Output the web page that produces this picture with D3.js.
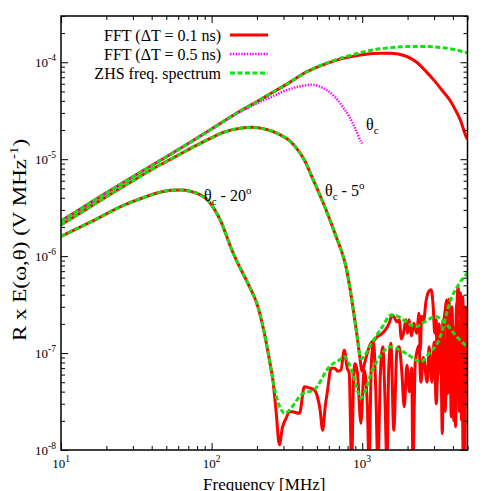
<!DOCTYPE html>
<html>
<head>
<meta charset="utf-8">
<script src="https://cdn.jsdelivr.net/npm/d3@7"></script>
<style>
  body { margin: 0; background: #fff; }
  text { font-family: "Liberation Serif", "Times New Roman", serif; fill: #000; }
</style>
</head>
<body>
<script>
var width = 491,
    height = 491;

// frequency [MHz], field [V/MHz]
// theta_c, FFT with dT = 0.1 ns
var fftTheta = [[10,2.3e-6],[15,3.4e-6],[20,4.5e-6],[30,6.6e-6],[44,9.4e-6],[70,1.45e-5],[100,2.05e-5],[153,3.1e-5],
  [202,3.95e-5],[255,4.9e-5],[330,6.2e-5],[424,7.9e-5],[550,9.4e-5],[705,1.07e-4],[870,1.15e-4],[1060,1.21e-4],
  [1300,1.24e-4],[1550,1.24e-4],[1945,1.16e-4],[2300,1.0e-4],[2642,8.1e-5],[3000,6.5e-5],[3404,5.1e-5],
  [3800,4.1e-5],[4169,3.2e-5],[4500,2.5e-5],[4864,1.75e-5],[5000,1.6e-5]];
// theta_c, FFT with dT = 0.5 ns
var fftCoarseTheta = [[10,2.3e-6],[15,3.4e-6],[20,4.5e-6],[30,6.6e-6],[44,9.4e-6],[70,1.45e-5],[100,2.05e-5],
  [153,3.05e-5],[202,3.8e-5],[255,4.45e-5],[300,5.0e-5],[345,5.4e-5],[400,5.7e-5],[457,5.85e-5],[500,5.75e-5],
  [546,5.45e-5],[600,5.0e-5],[670,4.26e-5],[750,3.4e-5],[820,2.75e-5],[908,2.0e-5],[980,1.52e-5],[1000,1.45e-5]];
// theta_c, ZHS frequency spectrum
var zhsTheta = [[10,2.3e-6],[15,3.4e-6],[20,4.5e-6],[30,6.6e-6],[44,9.4e-6],[70,1.45e-5],[100,2.05e-5],[153,3.1e-5],
  [202,3.95e-5],[255,4.9e-5],[330,6.2e-5],[424,7.9e-5],[550,9.5e-5],[705,1.09e-4],[870,1.2e-4],[1170,1.34e-4],
  [1500,1.41e-4],[1945,1.45e-4],[2642,1.45e-4],[3581,1.4e-4],[4300,1.33e-4],[5000,1.25e-4]];

// theta_c - 5 deg, common part of both spectra
var lobe5 = [[10,2.1e-6],[15,3.1e-6],[20,4.1e-6],[30,6.0e-6],[44,8.5e-6],[60,1.1e-5],[73,1.3e-5],[95,1.6e-5],
  [121,1.9e-5],[155,2.08e-5],[183,2.13e-5],[215,2.08e-5],[255,1.93e-5],[290,1.76e-5],[329,1.55e-5],[370,1.27e-5],
  [413,9.8e-6],[469,6.3e-6],[519,4.4e-6],[580,2.9e-6],[635,2.0e-6],[686,1.45e-6],[735,1.08e-6],[780,7.8e-7],
  [830,4.6e-7],[885,2.4e-7],[930,1.4e-7]];
var fftTail5 = [[960,9.5e-8],[1000,6.5e-8],[1040,8e-8],[1090,1.05e-7],[1140,1.26e-7],[1200,1.35e-7],[1260,1.48e-7],
  [1330,1.55e-7],[1390,1.66e-7],[1450,1.8e-7],[1510,2.03e-7],[1580,2.47e-7],[1640,2.3e-7],[1700,2.1e-7],
  [1760,2.2e-7],[1820,1.4e-7],[1880,1.6e-7],[1950,2.2e-7],[2000,1.6e-7],[2046,2.2e-7],[2120,1.5e-7],[2200,2.03e-7],
  [2300,1.6e-7],[2383,2.58e-7],[2430,1.07e-7],[2480,2.4e-7],[2560,2.2e-7],[2650,3.4e-7],[2760,4.3e-7],
  [2870,4.49e-7],[2960,3.0e-7],[3030,1.6e-7],[3100,2.2e-7],[3150,5.3e-8],[3230,1.8e-7],[3330,1.0e-7],
  [3400,1.48e-8],[3480,2.0e-7],[3560,2.8e-7],[3630,3.53e-7],[3690,3.8e-8],[3760,3.6e-7],[3830,1.3e-7],
  [3900,2.2e-8],[4000,2.0e-7],[4100,9e-8],[4170,1.74e-8],[4260,3.0e-7],[4330,4.87e-7],[4420,2.5e-7],
  [4490,4.2e-7],[4560,2.04e-8],[4640,3.8e-7],[4720,1.2e-7],[4790,6e-9],[4880,1.6e-7],[4950,6.7e-8],[5000,6.0e-8]];
var zhsTail5 = [[980,8.8e-8],[1170,1.31e-7],[1370,1.9e-7],[1549,2.47e-7],[1650,2.45e-7],[1803,2.3e-7],[2000,2.05e-7],
  [2270,1.87e-7],[2600,2.1e-7],[3076,2.38e-7],[3581,2.03e-7],[4200,1.5e-7],[5000,1.15e-7]];

// theta_c - 20 deg
var lobe20 = [[10,1.6e-6],[15.9,2.27e-6],[26.4,3.37e-6],[35,4.0e-6],[44,4.5e-6],[54,4.78e-6],[62,4.8e-6],
  [73,4.65e-6],[84,4.3e-6],[94,3.8e-6],[105,3.0e-6],[115,2.3e-6],[125,1.65e-6],[135,1.2e-6],[150,8.3e-7],
  [174,5.25e-7],[203,3.0e-7],[224,1.6e-7],[242,8.5e-8],[255,5.3e-8]];
var fftTail20 = [[268,2.5e-8],[282,1.13e-8],[295,1.7e-8],[312,2.12e-8],[330,2.5e-8],[345,2.48e-8],[383,2.39e-8],
  [413,4.5e-8],[440,4.4e-8],[481,4.16e-8],[505,3.5e-8],[525,2.6e-8],[546,1.6e-8],[568,2.8e-8],[589,4.16e-8],
  [621,6.97e-8],[653,6.97e-8],[690,6.5e-8],[722,6.7e-8],[760,1.07e-7],[795,7e-8],[820,6.2e-8],[850,7e-9],
  [875,5e-8],[895,7.8e-8],[930,6.2e-8],[980,1.89e-8],[1030,6.7e-8],[1080,3.03e-8],[1110,7e-9],[1150,8e-8],
  [1190,1.26e-7],[1230,4.16e-8],[1270,7e-9],[1320,6e-8],[1370,1.16e-7],[1410,4.2e-8],[1460,7e-9],[1500,7e-8],
  [1550,1.26e-7],[1620,1.6e-8],[1700,1.07e-7],[1758,1.16e-7],[1830,6.5e-8],[1900,2.8e-8],[1980,7.5e-8],
  [2060,4e-8],[2130,7e-8],[2170,7e-9],[2250,8e-8],[2383,1.2e-7],[2450,5e-8],[2550,9e-8],[2700,5e-8],
  [2780,1.16e-7],[2900,5e-8],[3000,1.3e-7],[3100,3e-8],[3236,2e-7],[3330,6e-8],[3450,2.2e-7],[3550,2.5e-8],
  [3700,2.5e-7],[3800,4e-8],[3950,3e-7],[4050,2e-8],[4250,3.3e-7],[4400,2.5e-8],[4550,3.5e-7],[4700,6e-9],
  [4850,3e-7],[5000,1.5e-7]];
var zhsTail20 = [[270,3.5e-8],[290,2.6e-8],[304,2.39e-8],[402,3.8e-8],[481,4.2e-8],[604,7.2e-8],[705,8.5e-8],
  [760,9.2e-8],[870,6e-8],[980,3.42e-8],[1170,6.7e-8],[1549,1.16e-7],[1945,9.96e-8],[2447,8.15e-8],[2780,9.96e-8],
  [3236,1.36e-7],[3864,3.53e-7],[4400,5.2e-7],[5000,6.7e-7]];

var xMajor = [10, 100, 1000],
    xExp = ['1', '2', '3'];
var yMajor = [1e-8, 1e-7, 1e-6, 1e-5, 1e-4],
    yExp = ['-8', '-7', '-6', '-5', '-4'];
var legendLabels = ['FFT (\u0394T = 0.1 ns)', 'FFT (\u0394T = 0.5 ns)', 'ZHS freq. spectrum'];

var svg = d3.select('body').append('svg')
    .attr('width', width)
    .attr('height', height);

var plotLeft = 61, plotRight = 467.5, plotTop = 16, plotBottom = 450;

var x = d3.scaleLog().domain([10, 5000]).range([plotLeft, plotRight]);
var y = d3.scaleLog().domain([1e-8, 3e-4]).range([plotBottom, plotTop]);

svg.append('clipPath').attr('id', 'plot')
  .append('rect')
    .attr('x', plotLeft).attr('y', plotTop)
    .attr('width', plotRight - plotLeft).attr('height', plotBottom - plotTop);

var line = d3.line()
    .x(function(d) { return x(d[0]); })
    .y(function(d) { return y(d[1]); })
    .curve(d3.curveMonotoneX);

var styles = {
  red: { stroke: '#ff0000', width: 3, dash: null },
  mag: { stroke: '#ff00ff', width: 2.5, dash: '1.4,1.4' },
  green: { stroke: '#11e011', width: 3, dash: '5,2.5' }
};

// draw order: red FFT, magenta, then the green ZHS on top
var curves = [
  [fftTheta, 'red'],
  [lobe5.concat(fftTail5), 'red'],
  [lobe20.concat(fftTail20), 'red'],
  [fftCoarseTheta, 'mag'],
  [zhsTheta, 'green'],
  [lobe5.concat(zhsTail5), 'green'],
  [lobe20.concat(zhsTail20), 'green']
];

var g = svg.append('g').attr('clip-path', 'url(#plot)');
g.selectAll('path')
    .data(curves)
  .enter().append('path')
    .attr('d', function(d) { return line(d[0]); })
    .attr('fill', 'none')
    .attr('stroke', function(d) { return styles[d[1]].stroke; })
    .attr('stroke-width', function(d) { return styles[d[1]].width; })
    .attr('stroke-dasharray', function(d) { return styles[d[1]].dash; })
    .attr('stroke-linejoin', 'round');

// ticks on all four sides, pointing in
var xMinor = x.ticks().filter(function(v) { return xMajor.indexOf(v) < 0; });
var yMinor = y.ticks().filter(function(v) { return !yMajor.some(function(m) { return Math.abs(m - v) / v < 1e-6; }); });

function ticks(axis, tx, ty) {
  var a = svg.append('g')
      .attr('transform', 'translate(' + tx + ',' + ty + ')')
      .call(axis);
  a.select('.domain').remove();
  a.selectAll('text').remove();
  a.selectAll('line').attr('stroke', '#000').attr('stroke-width', 1);
}
ticks(d3.axisBottom(x).tickValues(xMajor).tickSize(-7), 0, plotBottom);
ticks(d3.axisBottom(x).tickValues(xMinor).tickSize(-4), 0, plotBottom);
ticks(d3.axisTop(x).tickValues(xMajor).tickSize(-7), 0, plotTop);
ticks(d3.axisTop(x).tickValues(xMinor).tickSize(-4), 0, plotTop);
ticks(d3.axisLeft(y).tickValues(yMajor).tickSize(-7), plotLeft, 0);
ticks(d3.axisLeft(y).tickValues(yMinor).tickSize(-4), plotLeft, 0);
ticks(d3.axisRight(y).tickValues(yMajor).tickSize(-7), plotRight, 0);
ticks(d3.axisRight(y).tickValues(yMinor).tickSize(-4), plotRight, 0);

svg.append('rect')
    .attr('x', plotLeft).attr('y', plotTop)
    .attr('width', plotRight - plotLeft).attr('height', plotBottom - plotTop)
    .attr('fill', 'none')
    .attr('stroke', '#000')
    .attr('stroke-width', 1.5);

// tick labels as 10^n
var xl = svg.selectAll('.xlab')
    .data(xMajor)
  .enter().append('text')
    .attr('class', 'xlab')
    .attr('x', function(d) { return x(d); })
    .attr('y', 468)
    .attr('text-anchor', 'middle')
    .style('font-size', '13px');
xl.append('tspan').text('10');
xl.append('tspan').attr('dy', -6).style('font-size', '9.5px')
    .text(function(d, i) { return xExp[i]; });

var yl = svg.selectAll('.ylab')
    .data(yMajor)
  .enter().append('text')
    .attr('class', 'ylab')
    .attr('x', 56)
    .attr('y', function(d) { return y(d) + 5; })
    .attr('text-anchor', 'end')
    .style('font-size', '13px');
yl.append('tspan').text('10');
yl.append('tspan').attr('dy', -6).style('font-size', '9.5px')
    .text(function(d, i) { return yExp[i]; });

// axis titles
svg.append('text')
    .attr('x', (plotLeft + plotRight) / 2)
    .attr('y', 490)
    .attr('text-anchor', 'middle')
    .style('font-size', '17px')
    .text('Frequency [MHz]');

// the y title is long but thin in the original, so squeeze the glyph height
var yt = svg.append('text')
    .attr('transform', 'translate(26,240) rotate(-90) scale(1,0.85)')
    .attr('text-anchor', 'middle')
    .style('font-size', '23px');
yt.append('tspan').text('R x E(\u03c9,\u03b8) (V MHz');
yt.append('tspan').attr('dy', -9).style('font-size', '15px').text('-1');
yt.append('tspan').attr('dy', 9).text(')');

// legend
var lg = svg.selectAll('.legend')
    .data(legendLabels)
  .enter().append('g')
    .attr('class', 'legend')
    .attr('transform', function(d, i) { return 'translate(0,' + (35 + i * 19) + ')'; });
lg.append('text')
    .attr('x', 221)
    .attr('y', 5.5)
    .attr('text-anchor', 'end')
    .style('font-size', '16px')
    .text(function(d) { return d; });
lg.append('line')
    .attr('x1', 230).attr('x2', 268)
    .attr('stroke', function(d, i) { return styles[['red', 'mag', 'green'][i]].stroke; })
    .attr('stroke-width', function(d, i) { return styles[['red', 'mag', 'green'][i]].width; })
    .attr('stroke-dasharray', function(d, i) { return styles[['red', 'mag', 'green'][i]].dash; });

// curve annotations
function angleLabel(px, py, offset) {
  var t = svg.append('text')
      .attr('x', px).attr('y', py)
      .style('font-size', '16px');
  t.append('tspan').text('\u03b8');
  t.append('tspan').attr('dy', 4).style('font-size', '11px').text('c');
  if (offset) {
    t.append('tspan').attr('dy', -4).text(' - ' + offset);
    t.append('tspan').attr('dy', -7).style('font-size', '11px').text('o');
  }
}
angleLabel(366, 130);
angleLabel(325, 196, '5');
angleLabel(204, 201, '20');
</script>
</body>
</html>
